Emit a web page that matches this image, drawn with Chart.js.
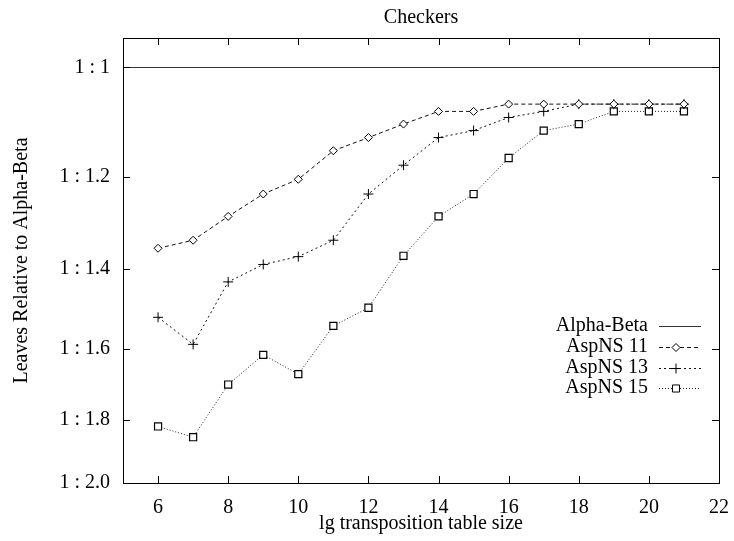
<!DOCTYPE html>
<html>
<head>
<meta charset="utf-8">
<script src="https://cdn.jsdelivr.net/npm/chart.js@4"></script>
<style>
  body { margin: 0; background: #fff; }
  canvas { display: block; }
</style>
</head>
<body>
<canvas id="checkersChart" width="734" height="541"></canvas>
<script>
// table size (lg) on the x axis
const sizes = [6, 7, 8, 9, 10, 11, 12, 13, 14, 15, 16, 17, 18, 19, 20, 21];
// leaves relative to alpha-beta (1 : value)
const aspNS11 = [1.352, 1.334, 1.282, 1.235, 1.205, 1.149, 1.124, 1.099, 1.076, 1.076, 1.063, 1.063, 1.063, 1.063, 1.063, 1.063];
const aspNS13 = [1.517, 1.587, 1.430, 1.389, 1.371, 1.334, 1.235, 1.177, 1.124, 1.111, 1.087, 1.076, 1.063, 1.063, 1.063, 1.063];
const aspNS15 = [1.820, 1.853, 1.697, 1.615, 1.668, 1.539, 1.493, 1.369, 1.282, 1.235, 1.163, 1.111, 1.099, 1.076, 1.076, 1.076];
const alphaBetaX = [5, 22];
const alphaBeta = [1, 1];

const xTicks = [6, 8, 10, 12, 14, 16, 18, 20, 22];
const yTicks = [1, 1.2, 1.4, 1.6, 1.8, 2.0];
const yTickLabels = ['1 : 1', '1 : 1.2', '1 : 1.4', '1 : 1.6', '1 : 1.8', '1 : 2.0'];

const FONT = "'Liberation Serif', 'Times New Roman', serif";
const toPoints = (xs, ys) => xs.map((x, i) => ({ x: x, y: ys[i] }));

// border box, inward ticks, titles and the legend, gnuplot style
const framePlugin = {
    id: 'frame',
    afterDraw(chart) {
        const ctx = chart.ctx;
        const a = chart.chartArea;
        const xs = chart.scales.x, ys = chart.scales.y;
        const tl = 7;
        ctx.save();
        ctx.strokeStyle = '#000';
        ctx.lineWidth = 1;
        ctx.setLineDash([]);
        ctx.strokeRect(a.left + 0.5, a.top + 0.5, a.right - a.left, a.bottom - a.top);
        ctx.beginPath();
        xTicks.forEach(v => {
            const px = Math.round(xs.getPixelForValue(v)) + 0.5;
            ctx.moveTo(px, a.bottom); ctx.lineTo(px, a.bottom - tl);
            ctx.moveTo(px, a.top); ctx.lineTo(px, a.top + tl);
        });
        yTicks.forEach(v => {
            const py = Math.round(ys.getPixelForValue(v)) + 0.5;
            ctx.moveTo(a.left, py); ctx.lineTo(a.left + tl, py);
            ctx.moveTo(a.right, py); ctx.lineTo(a.right - tl, py);
        });
        ctx.stroke();

        ctx.fillStyle = '#000';
        ctx.font = '20px ' + FONT;
        ctx.textAlign = 'center';
        ctx.textBaseline = 'middle';
        const cx = (a.left + a.right) / 2;
        ctx.fillText('Checkers', cx, 18);
        ctx.fillText('lg transposition table size', cx, 524);
        ctx.save();
        ctx.translate(22, (a.top + a.bottom) / 2);
        ctx.rotate(-Math.PI / 2);
        ctx.fillText('Leaves Relative to Alpha-Beta', 0, 0);
        ctx.restore();

        // legend
        const rows = [326, 347, 368, 388];
        chart.data.datasets.forEach((ds, i) => {
            const y = rows[i];
            ctx.textAlign = 'right';
            ctx.fillStyle = '#000';
            ctx.fillText(ds.label, 648, y);
            ctx.strokeStyle = ds.borderColor;
            ctx.lineWidth = ds.borderWidth;
            ctx.setLineDash(ds.borderDash || []);
            ctx.beginPath();
            ctx.moveTo(659, y + 0.5);
            ctx.lineTo(701, y + 0.5);
            ctx.stroke();
            ctx.setLineDash([]);
            if (ds.pointRadius > 0) {
                ctx.strokeStyle = ds.pointBorderColor;
                ctx.fillStyle = '#fff';
                Chart.helpers.drawPoint(ctx, {
                    pointStyle: ds.pointStyle,
                    radius: ds.pointRadius,
                    rotation: 0,
                    borderWidth: ds.pointBorderWidth
                }, 676, y + 0.5);
            }
        });
        ctx.restore();
    }
};

new Chart(document.getElementById('checkersChart'), {
    type: 'line',
    data: {
        datasets: [{
            label: 'Alpha-Beta',
            data: toPoints(alphaBetaX, alphaBeta),
            borderColor: '#333',
            borderWidth: 1.2,
            pointRadius: 0
        }, {
            label: 'AspNS 11',
            data: toPoints(sizes, aspNS11),
            borderColor: '#111',
            borderWidth: 1,
            borderDash: [4, 3],
            pointStyle: 'rectRot',
            pointRadius: 4,
            pointBackgroundColor: '#fff',
            pointBorderColor: '#000',
            pointBorderWidth: 1
        }, {
            label: 'AspNS 13',
            data: toPoints(sizes, aspNS13),
            borderColor: '#111',
            borderWidth: 1,
            borderDash: [2, 3],
            pointStyle: 'cross',
            pointRadius: 5,
            pointBorderColor: '#000',
            pointBorderWidth: 1
        }, {
            label: 'AspNS 15',
            data: toPoints(sizes, aspNS15),
            borderColor: '#222',
            borderWidth: 1,
            borderDash: [1, 2],
            pointStyle: 'rect',
            pointRadius: 5,
            pointBackgroundColor: '#fff',
            pointBorderColor: '#000',
            pointBorderWidth: 1.2
        }]
    },
    options: {
        responsive: false,
        animation: false,
        layout: { padding: { top: 38, right: 13, left: 0, bottom: 0 } },
        plugins: {
            legend: { display: false },
            title: { display: false },
            tooltip: { enabled: false }
        },
        scales: {
            x: {
                type: 'linear',
                min: 5,
                max: 22,
                grid: { display: false },
                border: { display: false },
                afterBuildTicks: (scale) => { scale.ticks = xTicks.map(v => ({ value: v })); },
                afterFit: (scale) => { scale.height = 58; },
                ticks: {
                    color: '#000',
                    padding: 5,
                    maxRotation: 0,
                    font: { family: FONT, size: 20 }
                }
            },
            y: {
                type: 'logarithmic',
                reverse: true,
                bounds: 'data',
                min: 0.952,
                max: 2.0,
                grid: { display: false },
                border: { display: false },
                afterBuildTicks: (scale) => { scale.ticks = yTicks.map(v => ({ value: v })); },
                afterFit: (scale) => { scale.width = 123; },
                ticks: {
                    color: '#000',
                    padding: 5,
                    font: { family: FONT, size: 20 },
                    callback: (value) => yTickLabels[yTicks.indexOf(value)]
                }
            }
        }
    },
    plugins: [framePlugin]
});
</script>
</body>
</html>
